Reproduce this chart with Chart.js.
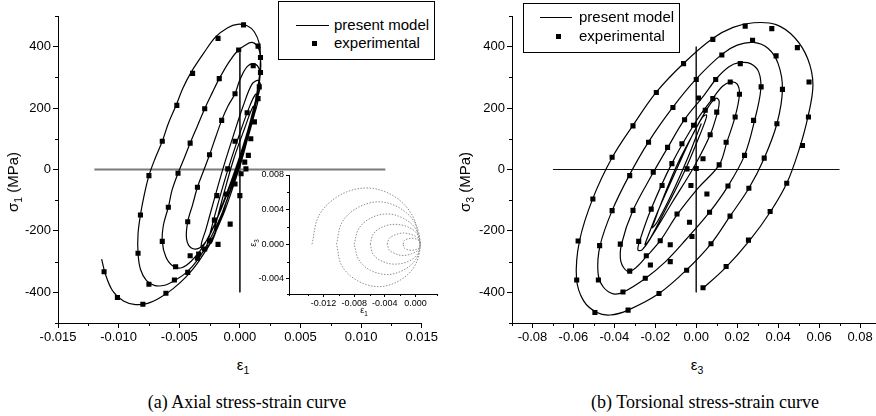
<!DOCTYPE html>
<html lang="en">
<head>
<meta charset="utf-8" />
<title>Stress-strain curves</title>
<script src="https://cdn.jsdelivr.net/npm/chart.js"></script>
<style>
    html, body { margin: 0; padding: 0; background: #fff; overflow: hidden; width: 876px; height: 416px; }
    .wrap { position: relative; width: 876px; height: 416px; font-family: "Liberation Sans", Arial, sans-serif; color: #000; overflow: hidden; }
    canvas { position: absolute; }
    #axialChart { left: 0; top: 0; }
    #torsionChart { left: 440px; top: 0; }
    #pathChart { left: 240px; top: 165px; }

    /* legend boxes */
    .legend { position: absolute; border: 1px solid #000; background: #fff; font-size: 15px; }
    .legend .txt { position: absolute; line-height: 18px; white-space: nowrap; }
    .legend .ln { position: absolute; height: 0; border-top: 1px solid #000; }
    .legend .sq { position: absolute; width: 5px; height: 5px; background: #000; }

    .title { position: absolute; white-space: nowrap; font-size: 15px; line-height: 18px; transform: translate(-50%, -50%); }
    .title.rot { transform: translate(-50%, -50%) rotate(-90deg); }
    .title sub { font-size: 70%; line-height: 0; }
    .title.small { font-size: 9px; line-height: 10px; }
    .caption { position: absolute; top: 391px; font-family: "Liberation Serif", "Times New Roman", serif; font-size: 18px; line-height: 22px; white-space: nowrap; transform: translateX(-50%); }
</style>
</head>
<body>
<div class="wrap">
    <canvas id="axialChart" width="440" height="345" style="width:440px;height:345px"></canvas>
    <canvas id="torsionChart" width="460" height="345" style="width:460px;height:345px"></canvas>
    <canvas id="pathChart" width="200" height="150" style="width:200px;height:150px"></canvas>

    <!-- legend (a) -->
    <div class="legend" style="left:278px;top:1px;width:155px;height:57px">
        <div class="ln" style="left:17px;top:23px;width:33px"></div>
        <div class="txt" style="left:55px;top:14px">present model</div>
        <div class="sq" style="left:33px;top:39px"></div>
        <div class="txt" style="left:55px;top:32px">experimental</div>
    </div>
    <!-- legend (b) -->
    <div class="legend" style="left:523px;top:3px;width:155px;height:48px">
        <div class="ln" style="left:16px;top:13px;width:32px"></div>
        <div class="txt" style="left:55px;top:4px">present model</div>
        <div class="sq" style="left:32px;top:30px"></div>
        <div class="txt" style="left:55px;top:23px">experimental</div>
    </div>

    <div class="title rot" style="left:13px;top:182px">&sigma;<sub>1</sub> (MPa)</div>
    <div class="title" style="left:243px;top:365px">&epsilon;<sub>1</sub></div>
    <div class="title rot" style="left:465px;top:182px">&sigma;<sub>3</sub> (MPa)</div>
    <div class="title" style="left:697px;top:365px">&epsilon;<sub>3</sub></div>
    <div class="title rot small" style="left:253px;top:243px">&epsilon;<sub>3</sub></div>
    <div class="title small" style="left:364px;top:310px">&epsilon;<sub>1</sub></div>

    <div class="caption" style="left:247px">(a) Axial stress-strain curve</div>
    <div class="caption" style="left:705px">(b) Torsional stress-strain curve</div>
</div>

<script>
    // ---- axial loading: strain eps1 vs stress sigma1 (MPa) ----
    var axialModel = [
        [-0.0114,-292],[-0.0111,-340],[-0.0105,-395],[-0.0096,-428],[-0.0086,-440],[-0.0076,-436],[-0.0066,-418],
        [-0.0055,-388],[-0.0044,-348],[-0.0034,-300],[-0.0024,-235],[-0.0014,-150],[-0.0005,-50],[0.0003,50],
        [0.0009,145],[0.0013,225],[0.0016,300],[0.0017,360],[0.0016,410],[0.0012,448],[0.0006,468],[-0.0002,473],
        [-0.0010,462],[-0.0020,432],[-0.0030,378],[-0.0040,318],[-0.0047,265],[-0.0053,205],[-0.0059,150],
        [-0.0064,92],[-0.0070,35],[-0.0075,-20],[-0.0079,-85],[-0.0082,-148],[-0.0084,-210],[-0.0084,-273],
        [-0.0082,-325],[-0.0077,-362],[-0.0070,-378],[-0.0062,-377],[-0.0054,-362],[-0.0044,-335],[-0.0035,-295],
        [-0.0026,-238],[-0.0016,-155],[-0.0007,-60],[0.0002,45],[0.0009,140],[0.0014,230],[0.0017,316],[0.0017,365],
        [0.0015,398],[0.0010,414],[0.0004,404],[-0.0002,386],[-0.0009,350],[-0.0017,296],[-0.0023,248],[-0.0029,198],
        [-0.0035,142],[-0.0041,86],[-0.0046,36],[-0.0051,-12],[-0.0056,-68],[-0.0059,-123],[-0.0063,-180],
        [-0.0064,-234],[-0.0061,-285],[-0.0055,-315],[-0.0048,-320],[-0.0040,-298],[-0.0031,-255],[-0.0021,-180],
        [-0.0011,-85],[-0.0002,20],[0.0006,120],[0.0012,210],[0.0016,280],[0.0016,325],[0.0012,344],[0.0006,335],
        [0.0000,292],[-0.0004,247],[-0.0010,205],[-0.0015,160],[-0.0020,105],[-0.0025,48],[-0.0030,-5],[-0.0035,-58],
        [-0.0039,-115],[-0.0043,-170],[-0.0044,-225],[-0.0040,-256],[-0.0033,-255],[-0.0025,-215],[-0.0016,-130],
        [-0.0006,-25],[0.0003,80],[0.0010,170],[0.0015,240],[0.0017,275],[0.0015,290],[0.0010,278],[0.0003,210],
        [-0.0005,115],[-0.0013,15],[-0.0021,-95],[-0.0028,-195],[-0.0032,-250],[-0.0029,-268],[-0.0022,-220],
        [-0.0012,-115],[-0.0002,-5],[0.0006,95],[0.0012,180],[0.0015,228],[0.0013,245],[0.0007,195],[-0.0002,95],
        [-0.0011,-15],[-0.0019,-125],[-0.0025,-215],[-0.0027,-248],[-0.0023,-235],[-0.0014,-135],[-0.0004,-25],
        [0.0004,80],[0.0010,160],[0.0013,200],[0.0011,206],[0.0004,135],[-0.0005,35],[-0.0013,-75],[-0.0019,-165],
        [-0.0021,-198],[-0.0017,-175],[-0.0008,-65],[0.0001,50],[0.0008,130],[0.0011,165]
    ];
    var axialExp = [
        [0.0003,471],[-0.0018,427],[-0.0039,313],[-0.0052,209],[-0.0064,92],[-0.0075,-20],[-0.0082,-148],
        [-0.0084,-273],[-0.0075,-374],[-0.0054,-360],[-0.0043,-335],[-0.0035,-289],
        [-0.0112,-333],[-0.0101,-417],[-0.0080,-439],[-0.0061,-403],
        [-0.0001,389],[0.0015,402],[0.0017,365],[0.0017,316],[-0.0017,296],[-0.0029,198],[-0.0041,86],
        [-0.0051,-12],[-0.0059,-123],[-0.0064,-234],[-0.0053,-317],[-0.0041,-281],
        [0.0011,338],[-0.0004,247],[-0.0015,160],[-0.0025,48],[-0.0035,-58],[-0.0043,-170],
        [0.0016,269],[0.0015,231],[0.0006,185],[0.0012,155],[0.0009,100],[-0.0004,92],[0.0007,46],[0.0004,24],
        [0.0005,2],[0.0001,-14],[-0.0010,2],[-0.0004,-47],[-0.0011,-80],[0.0000,-85],[-0.0019,-85],[-0.0021,-165],
        [-0.0025,-232],[-0.0029,-259],[-0.0008,-178],[-0.0018,-244],[-0.0034,-275]
    ];
    var axialZeroH = [[-0.012, 0], [0.012, 0]];
    var axialZeroV = [[0, 380], [0, -400]];

    // ---- torsional loading: strain eps3 vs stress sigma3 (MPa) ----
    var torsionModel = [
        [0.0028,-390],[0.0146,-318],[0.0260,-232],[0.0364,-136],[0.0442,-45],[0.0500,60],[0.0545,170],[0.0570,275],
        [0.0545,360],[0.0480,430],[0.0390,472],[0.0280,478],[0.0180,463],[0.0080,427],[-0.0060,347],[-0.0195,252],
        [-0.0310,143],[-0.0410,40],[-0.0505,-94],[-0.0570,-232],[-0.0585,-355],[-0.0550,-428],[-0.0485,-466],
        [-0.0420,-474],[-0.0333,-458],[-0.0184,-405],[-0.0049,-328],[0.0072,-242],[0.0165,-152],[0.0257,-61],
        [0.0332,37],[0.0394,149],[0.0421,261],[0.0400,345],[0.0350,395],[0.0280,414],[0.0200,405],[0.0125,375],
        [0.0000,295],[-0.0114,203],[-0.0233,90],[-0.0328,-20],[-0.0411,-134],[-0.0470,-248],[-0.0480,-335],
        [-0.0455,-382],[-0.0405,-405],[-0.0358,-400],[-0.0249,-355],[-0.0150,-300],[-0.0050,-228],[0.0065,-139],
        [0.0155,-54],[0.0236,46],[0.0285,160],[0.0315,260],[0.0305,318],[0.0265,345],[0.0210,348],[0.0160,335],
        [0.0101,298],[0.0036,240],[-0.0057,163],[-0.0138,73],[-0.0210,-10],[-0.0309,-133],[-0.0365,-243],
        [-0.0368,-300],[-0.0335,-332],[-0.0295,-320],[-0.0244,-284],[-0.0176,-232],[-0.0094,-148],[0.0010,-60],
        [0.0112,15],[0.0150,90],[0.0190,172],[0.0211,245],[0.0200,278],[0.0170,285],[0.0130,272],[0.0081,232],
        [0.0000,158],[-0.0119,20],[-0.0220,-128],[-0.0275,-230],[-0.0285,-262],[-0.0265,-262],[-0.0215,-215],
        [-0.0120,-110],[-0.0010,10],[0.0068,113],[0.0104,187],[0.0112,222],[0.0098,232],[0.0060,205],[-0.0020,110],
        [-0.0110,-20],[-0.0190,-140],[-0.0240,-225],[-0.0250,-245],[-0.0225,-225],[-0.0150,-130],[-0.0060,-10],
        [0.0010,100],[0.0045,160],[0.0050,178],[0.0030,170],[-0.0020,110],[-0.0090,20],[-0.0160,-90],[-0.0205,-170],
        [-0.0215,-190],[-0.0190,-170],[-0.0120,-80],[-0.0040,40],[0.0010,125],[0.0025,150]
    ];
    var torsionExp = [
        [0.0033,-385],[0.0146,-316],[0.0255,-230],[0.0361,-137],[0.0442,-45],[0.0519,78],[0.0548,171],[0.0551,285],
        [0.0494,397],[0.0369,459],[0.0239,467],[0.0081,424],[-0.0062,345],[-0.0195,251],[-0.0309,142],[-0.0411,40],
        [-0.0505,-96],[-0.0577,-233],[-0.0584,-360],[-0.0495,-466],[-0.0333,-458],[-0.0182,-404],[-0.0047,-328],
        [0.0072,-242],[0.0165,-152],
        [0.0257,-61],[0.0332,37],[0.0394,149],[0.0421,261],[0.0390,370],[0.0275,421],[0.0125,373],[0.0000,293],
        [-0.0114,202],[-0.0233,89],[-0.0325,-20],[-0.0411,-134],[-0.0472,-248],[-0.0478,-360],[-0.0358,-399],
        [-0.0249,-354],
        [0.0155,-54],[0.0236,46],[0.0280,160],[0.0317,269],[0.0215,345],[0.0095,293],[0.0011,233],[-0.0057,162],
        [-0.0140,72],[-0.0210,-9],[-0.0309,-133],[-0.0371,-243],[-0.0325,-331],[-0.0244,-281],[-0.0176,-232],
        [-0.0094,-145],[0.0065,-139],
        [0.0112,15],[0.0146,89],[0.0190,171],[0.0211,245],[0.0166,285],[0.0081,231],[-0.0119,19],[-0.0220,-129],
        [-0.0281,-234],[-0.0167,-52],[0.0033,35],[0.0068,113],[0.0100,187],[0.0044,193],[-0.0013,144],[-0.0070,84],
        [-0.0045,2],[0.0000,3],
        [-0.0021,-218],[-0.0033,-172],[-0.0127,-245],[-0.0127,-300],[-0.0224,-311],[0.0052,-80],[-0.0026,-52]
    ];
    var torsionZeroH = [[-0.07, 0], [0.07, 0]];
    var torsionZeroV = [[0, 400], [0, -400]];

    // ---- inset: strain path eps1 vs eps3, one ring per cycle block ----
    var pathCircles = [
        [[-0.0135,0],[-0.0126,0.0033],[-0.0100,0.0056],[-0.0064,0.0065],[-0.0029,0.0056],[-0.0004,0.0033],[0.0006,0]],
        [[-0.0103,0],[-0.0096,0.0025],[-0.0076,0.0042],[-0.0048,0.0049],[-0.0021,0.0042],[-0.0001,0.0025],[0.0006,0],
         [-0.0001,-0.0025],[-0.0021,-0.0042],[-0.0048,-0.0049],[-0.0076,-0.0042],[-0.0096,-0.0025],[-0.0103,0]],
        [[-0.0080,0],[-0.0074,0.0018],[-0.0059,0.0030],[-0.0037,0.0035],[-0.0016,0.0030],[0.0000,0.0018],[0.0006,0],
         [0.0000,-0.0018],[-0.0016,-0.0030],[-0.0037,-0.0035],[-0.0059,-0.0030],[-0.0074,-0.0018],[-0.0080,0]],
        [[-0.0059,0],[-0.0055,0.0012],[-0.0043,0.0020],[-0.0027,0.0023],[-0.0010,0.0020],[0.0002,0.0012],[0.0006,0],
         [0.0002,-0.0012],[-0.0010,-0.0020],[-0.0027,-0.0023],[-0.0043,-0.0020],[-0.0055,-0.0012],[-0.0059,0]],
        [[-0.0037,0],[-0.0034,0.0007],[-0.0026,0.0011],[-0.0016,0.0013],[-0.0005,0.0011],[0.0003,0.0007],[0.0006,0],
         [0.0003,-0.0007],[-0.0005,-0.0011],[-0.0016,-0.0013],[-0.0026,-0.0011],[-0.0034,-0.0007],[-0.0037,0]],
        [[-0.0016,0],[-0.0015,0.0004],[-0.0011,0.0006],[-0.0005,0.0007],[0.0001,0.0006],[0.0005,0.0004],[0.0006,0],
         [0.0005,-0.0004],[0.0001,-0.0006],[-0.0005,-0.0007],[-0.0011,-0.0006],[-0.0015,-0.0004],[-0.0016,0]]
    ];

    function pts(list) {
        return list.map(function (p) { return { x: p[0], y: p[1] }; });
    }
    function isMultiple(v, step) {
        var r = v / step;
        return Math.abs(r - Math.round(r)) < 1e-6;
    }
    function fmt(v, digits) {
        if (Math.abs(v) < 1e-9) v = 0;
        return v.toFixed(digits);
    }

    // short unlabelled ticks between the labelled ones
    var minorTicks = {
        id: 'minorTicks',
        afterDraw: function (chart, args, opts) {
            var ctx = chart.ctx;
            ctx.save();
            ctx.strokeStyle = '#000';
            ctx.lineWidth = 1;
            Object.keys(chart.scales).forEach(function (id) {
                var scale = chart.scales[id];
                var step = opts[id];
                scale.ticks.forEach(function (t) {
                    if (isMultiple(t.value, step)) return;
                    var p = Math.round(scale.getPixelForValue(t.value)) + 0.5;
                    ctx.beginPath();
                    if (scale.axis === 'x') {
                        ctx.moveTo(p, scale.top);
                        ctx.lineTo(p, scale.top + opts.len);
                    } else {
                        ctx.moveTo(scale.right - opts.len, p);
                        ctx.lineTo(scale.right, p);
                    }
                    ctx.stroke();
                });
            });
            ctx.restore();
        }
    };

    function axis(o) {
        return {
            type: 'linear',
            min: o.min,
            max: o.max,
            afterFit: o.fit,
            border: { color: '#000', width: 1 },
            grid: {
                drawOnChartArea: false,
                tickLength: o.tick,
                color: function (c) { return isMultiple(c.tick.value, o.major) ? '#000' : 'rgba(0,0,0,0)'; }
            },
            ticks: {
                stepSize: o.step,
                autoSkip: false,
                maxRotation: 0,
                padding: o.pad,
                color: '#000',
                font: { family: 'Liberation Sans', size: o.size },
                callback: function (v) { return isMultiple(v, o.major) ? fmt(v, o.digits) : ''; }
            }
        };
    }

    function lineSet(data, color, width, order) {
        return { data: pts(data), showLine: true, pointRadius: 0, borderColor: color, borderWidth: width, tension: 0, order: order };
    }

    function stressStrainChart(id, model, exp, zeroH, zeroV, hColor, hWidth, xOpts, yWidth, pad) {
        return new Chart(document.getElementById(id), {
            type: 'scatter',
            data: {
                datasets: [
                    { data: pts(exp), pointStyle: 'rect', pointRadius: 3.6, backgroundColor: '#000', borderWidth: 0, order: 0 },
                    { data: pts(model), showLine: true, pointRadius: 0, borderColor: '#000', borderWidth: 1.2, tension: 0.35, order: 1 },
                    lineSet(zeroH, hColor, hWidth, 2),
                    lineSet(zeroV, '#222', 1, 2)
                ]
            },
            options: {
                responsive: false,
                animation: false,
                devicePixelRatio: 1,
                layout: { padding: pad },
                plugins: {
                    legend: { display: false },
                    tooltip: { enabled: false },
                    minorTicks: { x: xOpts.major, y: 200, len: 3 }
                },
                scales: {
                    x: axis(Object.assign({ tick: 5, pad: 2, size: 13, fit: function (s) { s.height = 22; } }, xOpts)),
                    y: axis({ min: -500, max: 500, step: 100, major: 200, digits: 0, tick: 5, pad: 2, size: 13,
                              fit: function (s) { s.width = yWidth; } })
                }
            },
            plugins: [minorTicks]
        });
    }

    stressStrainChart('axialChart', axialModel, axialExp, axialZeroH, axialZeroV, '#7a7a7a', 2,
        { min: -0.015, max: 0.015, step: 0.0025, major: 0.005, digits: 3 }, 58, { top: 16, right: 16 });

    stressStrainChart('torsionChart', torsionModel, torsionExp, torsionZeroH, torsionZeroV, '#111', 1,
        { min: -0.09, max: 0.09, step: 0.01, major: 0.02, digits: 2 }, 72, { top: 16, right: 19.5 });

    // inset with the circular strain paths
    new Chart(document.getElementById('pathChart'), {
        type: 'scatter',
        data: {
            datasets: pathCircles.map(function (c) {
                return { data: pts(c), showLine: true, pointRadius: 0, borderColor: '#8f8f8f', borderWidth: 1,
                         borderDash: [1.5, 1.5], tension: 0.35 };
            })
        },
        options: {
            responsive: false,
            animation: false,
            devicePixelRatio: 1,
            layout: { padding: { top: 10, right: 3 } },
            plugins: {
                legend: { display: false },
                tooltip: { enabled: false },
                minorTicks: { x: 0.004, y: 0.004, len: 2 }
            },
            scales: {
                x: axis({ min: -0.0165, max: 0.0028, step: 0.002, major: 0.004, digits: 3, tick: 3, pad: 1, size: 9,
                          fit: function (s) { s.height = 21; } }),
                y: axis({ min: -0.00575, max: 0.008, step: 0.002, major: 0.004, digits: 3, tick: 3, pad: 2, size: 9,
                          fit: function (s) { s.width = 49; } })
            }
        },
        plugins: [minorTicks]
    });
</script>
</body>
</html>
